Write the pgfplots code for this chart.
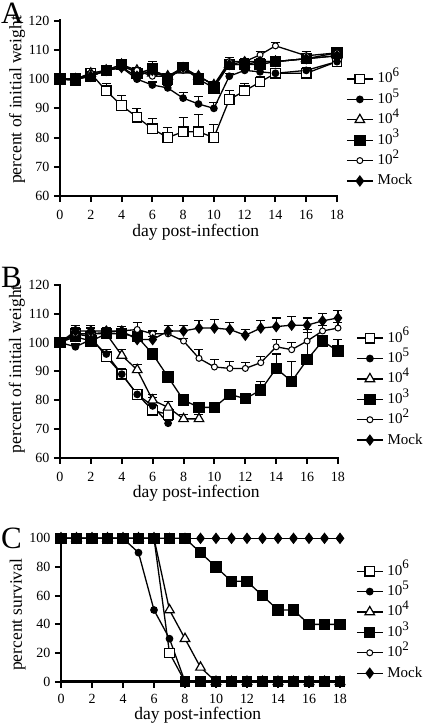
\documentclass[border=0pt]{standalone}
\usepackage{fontspec}
\setmainfont{Liberation Serif}
\usepackage{pgfplots}
\pgfplotsset{compat=1.18}
\newcommand{\pw}[1]{10\raisebox{0.42em}{\fontsize{13}{13}\selectfont #1}}
\pgfplotsset{
  panel/.style={
    scale only axis, width=277pt, clip=false,
    xmin=0, xmax=18, xtick={0,2,...,18},
    axis x line*=bottom, axis y line*=left,
    axis line style={line width=2.6pt, line cap=rect},
    tick align=outside, major tick length=6pt,
    tick style={line width=2pt, black},
    /pgf/number format/assume math mode=true,
    ticklabel style={font=\fontsize{14}{14}\selectfont},
    xticklabel style={inner sep=1pt, yshift=-7pt},
    yticklabel style={xshift=-1pt},
    label style={font=\fontsize{17.5}{17.5}\selectfont},
    xlabel={day post-infection},
    xlabel style={at={(axis description cs:0.49,0)}, anchor=center, inner sep=0pt, yshift=-35pt},
    legend cell align=left,
    legend style={draw=none, fill=none, inner sep=0pt, font=\fontsize{15}{15}\selectfont,
      row sep=2.4pt, column sep=3pt, nodes={inner sep=1pt, text height=12pt, text depth=4pt}},
    legend image code/.code={
      \draw[#1,mark=none] (0pt,0pt) -- (26pt,0pt);
      \draw[#1,only marks] plot coordinates {(13pt,0pt)};},
    error bars/y dir=plus, error bars/y explicit,
    error bars/error bar style={line width=1.2pt, black, solid},
    error bars/error mark options={rotate=90, mark size=4.5pt, line width=1.2pt, black},
  },
  s6/.style={black, line width=1.3pt, mark=square*, mark size=4.8pt, mark options={fill=white, line width=1.2pt}},
  s5/.style={black, line width=1.3pt, mark=*, mark size=3.2pt, mark options={fill=black}},
  s4/.style={black, line width=1.3pt, mark=triangle*, mark size=5.5pt, mark options={fill=white, line width=1.2pt}},
  s3/.style={black, line width=1.3pt, mark=square*, mark size=5pt, mark options={fill=black}},
  s2/.style={black, line width=1.3pt, mark=*, mark size=3pt, mark options={fill=white, line width=1pt}},
  sM/.style={black, line width=1.3pt, mark=diamond*, mark size=4.8pt, mark options={fill=black}},
}
\begin{document}
\begin{tikzpicture}[x=1pt,y=1pt]
\useasboundingbox (0,0) rectangle (425,-724);
\node[anchor=base west, inner sep=0pt, font=\fontsize{31}{31}\selectfont] at (1,-23) {A};
\node[anchor=base west, inner sep=0pt, font=\fontsize{31}{31}\selectfont] at (1,-287) {B};
\node[anchor=base west, inner sep=0pt, font=\fontsize{31}{31}\selectfont] at (1,-548) {C};

% ---------------- Panel A ----------------
\begin{axis}[panel, at={(60pt,-196pt)}, anchor=south west, height=175.3pt,
  ymin=60, ymax=120, ytick={60,70,...,120},
  ylabel={percent of initial weight},
  ylabel style={at={(axis description cs:-0.155,0.548)}, anchor=center, rotate=0},
  xlabel style={yshift=-1.5pt},
  legend style={at={(axis description cs:1.0325,0.72)}, anchor=north west}]
\addplot[s6] table[x=x,y=y,y error plus=e] {
x y e
0 100 0
1 99.5 0
2 102 0
3 96 2.5
4 91 3.5
5 87 3
6 83 3.5
7 80 3.5
8 82 5
9 82 6
10 80 4.5
11 93 3
12 96 2.5
13 99 2
14 102 1
16 102 1
18 106 1
};
\addlegendentry{\pw{6}}
\addplot[s5] table[x=x,y=y,y error plus=e] {
x y e
0 100 0
1 100 0
2 101 0
3 103 1
4 104 1
5 100 1
6 98 1
7 97 1
8 93.5 2
9 91.5 2.5
10 90 2
11 101 1
12 103 1
13 102.5 1
14 102 1
16 103 1
18 106 1
};
\addlegendentry{\pw{5}}
\addplot[s4] table[x=x,y=y,y error plus=e] {
x y e
0 100 0
1 100 0
2 102 1
3 103 1
4 105 1
5 103 1
6 102 2
7 101 1
8 103 1.5
9 101 1
10 98 1
11 105 1.5
12 105 1
13 106 1
14 106 1
16 107 1
18 108 1
};
\addlegendentry{\pw{4}}
\addplot[s3] table[x=x,y=y,y error plus=e] {
x y e
0 100 0
1 100 0
2 101 0
3 103 1
4 105 1
5 102 1
6 103.5 2.5
7 100 1.5
8 104 1.5
9 100 1.5
10 97 1
11 105 1.5
12 105 1
13 105 1
14 106 1
16 107 1
18 109 1
};
\addlegendentry{\pw{3}}
\addplot[s2] table[x=x,y=y,y error plus=e] {
x y e
0 100 0
1 100 0
2 102 1
3 103 1
4 104 1
5 103 1
6 101 2
7 101 1
8 103 1.5
9 101 1
10 98 1
11 106 1.5
12 106 1
13 108.3 1.2
14 111.4 1.2
16 108 1.5
18 109 1.5
};
\addlegendentry{\pw{2}}
\addplot[sM] table[x=x,y=y,y error plus=e] {
x y e
0 100 0
1 100 0
2 101 0
3 103 1
4 104 1
5 101 1
6 103 1.5
7 101 1
8 104 1.5
9 101 1
10 98 1
11 105 1.5
12 106 1
13 106 1
14 106 1
16 107 1
18 108 1
};
\addlegendentry{Mock}
\end{axis}

% ---------------- Panel B ----------------
\begin{axis}[panel, at={(60pt,-457.8pt)}, anchor=south west, height=173pt, width=278pt,
  ymin=60, ymax=120, ytick={60,70,...,120},
  ylabel={percent of initial weight},
  ylabel style={at={(axis description cs:-0.155,0.512)}, anchor=center},
  legend style={at={(axis description cs:1.065,0.745)}, anchor=north west}]
\addplot[s6] table[x=x,y=y,y error plus=e] {
x y e
0 100 0
1 103 3
2 102 3
3 95 2.5
4 89 2
5 82 1.5
6 76.5 2
7 75 2
};
\addlegendentry{\pw{6}}
\addplot[s5] table[x=x,y=y,y error plus=e] {
x y e
0 100 0
1 98.5 1
2 101 1
3 96 1
4 89 1
5 82 1
6 78 3
7 72 1
};
\addlegendentry{\pw{5}}
\addplot[s4] table[x=x,y=y,y error plus=e] {
x y e
0 100 0
1 103 2
2 103 2
3 103 1.5
4 95.5 2
5 90.5 2
6 80 2
7 77.5 2
8 73.5 1.5
9 73.5 1.5
};
\addlegendentry{\pw{4}}
\addplot[s3] table[x=x,y=y,y error plus=e] {
x y e
0 100 0
1 102 2
2 100.5 2
3 103 1
4 103 1
5 102 1
6 96 1
7 88 1
8 80 1
9 77.5 1
10 77.5 1
11 82 1
12 80.5 1.5
13 83.5 3
14 91 5
15 86.5 7
16 94 10.5
17 100.5 1.5
18 97 4
};
\addlegendentry{\pw{3}}
\addplot[s2] table[x=x,y=y,y error plus=e] {
x y e
0 100 0
1 103 2
2 103 2
3 103.5 1.5
4 104 1.5
5 104.5 2.5
6 103 1
7 103 1
8 100.5 1
9 94.5 3
10 91.5 2.5
11 91 2.5
12 91 2
13 93 2
14 98.5 2.5
15 97.5 2.5
16 100.5 3
17 104 2
18 105 2
};
\addlegendentry{\pw{2}}
\addplot[sM] table[x=x,y=y,y error plus=e] {
x y e
0 100 0
1 104 2
2 104 2
3 104 1
4 104 1.5
5 101 1
6 101 1
7 104 2
8 104 2
9 105 2.5
10 105 3
11 104.5 2.5
12 102.5 2
13 105 2.5
14 105.5 3
15 106 3
16 106 2.5
17 107.5 2.5
18 108.5 2.5
};
\addlegendentry{Mock}
\end{axis}

% ---------------- Panel C ----------------
\begin{axis}[panel, at={(61pt,-681.7pt)}, anchor=south west, height=143.4pt, width=279pt,
  ymin=0, ymax=100, ytick={0,20,...,100},
  ylabel={percent survival},
  ylabel style={at={(axis description cs:-0.155,0.467)}, anchor=center},
  xticklabel style={yshift=1.5pt},
  xlabel style={yshift=1.3pt},
  legend style={at={(axis description cs:1.057,0.835)}, anchor=north west}]
\addlegendimage{s6}\addlegendentry{\pw{6}}
\addlegendimage{s5}\addlegendentry{\pw{5}}
\addlegendimage{s4}\addlegendentry{\pw{4}}
\addlegendimage{s3}\addlegendentry{\pw{3}}
\addlegendimage{s2}\addlegendentry{\pw{2}}
\addlegendimage{sM}\addlegendentry{Mock}
\addplot[s2, forget plot] coordinates {(0,100)(1,100)(2,100)(3,100)(4,100)(5,100)(6,100)(7,100)(8,100)(9,100)(10,100)(11,100)(12,100)(13,100)(14,100)(15,100)(16,100)(17,100)(18,100)};
\addplot[sM, forget plot] coordinates {(0,100)(1,100)(2,100)(3,100)(4,100)(5,100)(6,100)(7,100)(8,100)(9,100)(10,100)(11,100)(12,100)(13,100)(14,100)(15,100)(16,100)(17,100)(18,100)};
\addplot[s5, forget plot] coordinates {(0,100)(1,100)(2,100)(3,100)(4,100)(5,90)(6,50)(7,30)(8,0)(9,0)(10,0)(11,0)(12,0)(13,0)(14,0)(15,0)(16,0)(17,0)(18,0)};
\addplot[s4, forget plot] coordinates {(0,100)(1,100)(2,100)(3,100)(4,100)(5,100)(6,100)(7,50)(8,30)(9,10)(10,0)(11,0)(12,0)(13,0)(14,0)(15,0)(16,0)(17,0)(18,0)};
\addplot[black, line width=1.3pt, mark=square*, mark size=4.8pt, mark options={line width=1.2pt},
  forget plot, scatter, point meta=explicit symbolic,
  scatter/classes={o={fill=white, draw=black}, f={fill=black, draw=black}}]
  table[x=x, y=y, meta=c] {
x y c
0 100 o
1 100 o
2 100 o
3 100 o
4 100 o
5 100 o
6 100 o
7 20 o
8 0 f
9 0 f
10 0 f
11 0 f
12 0 f
13 0 f
14 0 f
15 0 f
16 0 f
17 0 f
18 0 f
};
\addplot[s3, forget plot] coordinates {(0,100)(1,100)(2,100)(3,100)(4,100)(5,100)(6,100)(7,100)(8,100)(9,90)(10,80)(11,70)(12,70)(13,60)(14,50)(15,50)(16,40)(17,40)(18,40)};
\end{axis}
\end{tikzpicture}
\end{document}
